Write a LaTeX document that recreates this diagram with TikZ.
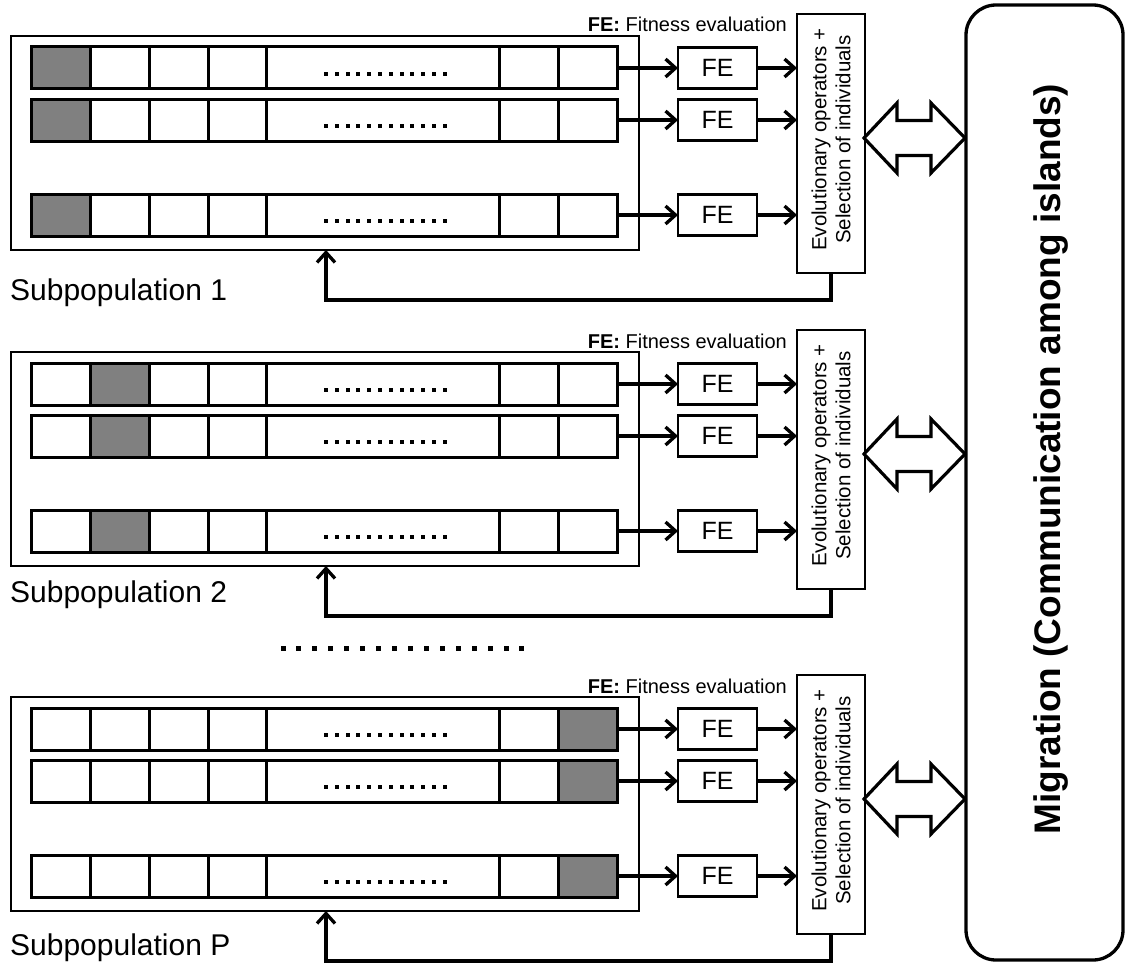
\documentclass[tikz,border=0pt]{standalone}
\usepackage{fontspec}
\setmainfont{Liberation Sans}
\usetikzlibrary{arrows.meta}
\definecolor{genegray}{HTML}{808080}
\begin{document}
\begin{tikzpicture}[x=1pt,y=-1pt,
  cellbox/.style={draw, line width=3pt, minimum height=42pt, inner sep=0pt, outer sep=0pt, anchor=north west},
  popbox/.style={draw, line width=2.6pt, minimum width=628pt, minimum height=214pt, inner sep=0pt, outer sep=0pt, anchor=north west},
  febox/.style={draw, line width=2.8pt, minimum width=79pt, minimum height=41pt, inner sep=0pt, outer sep=0pt, font=\fontsize{25}{28}\selectfont},
  evbox/.style={draw, line width=2.6pt, minimum width=68pt, minimum height=259pt, inner sep=0pt, outer sep=0pt, anchor=north west},
  arr/.style={line width=3.3pt, -{Straight Barb[length=10pt,width=18pt,line width=3.3pt]}},
  dblarrow/.style={draw, line width=3.2pt, fill=white, line join=miter},
  poplabel/.style={anchor=base west, inner sep=0pt, font=\fontsize{30}{36}\selectfont},
  felabel/.style={anchor=base east, inner sep=0pt, font=\fontsize{20}{24}\selectfont},
  evtext/.style={rotate=90, align=center, inner sep=0pt, font=\fontsize{20.5}{24}\selectfont}
]
\useasboundingbox (0,0) rectangle (1133,974);

% Migration box
\node[draw, line width=3.3pt, rounded corners=30pt, minimum width=157pt, minimum height=955pt, inner sep=0pt, outer sep=0pt, anchor=north west] (mig) at (966,5) {};
\node[rotate=90, anchor=base, inner sep=0pt, font=\fontsize{37}{44}\selectfont\bfseries] (migtext) at (1060,459) {Migration (Communication among islands)};

\foreach \t/\n/\g/\lb in {36/1/1/264, 352/2/2/250, 697/P/7/258}{
  % outer population box
  \node[popbox] (pop-\n) at (11,\t) {};
  % individuals
  \foreach \ro [count=\r] in {11,63,158}{
    \foreach \x/\w [count=\c] in {31/59,90/59,149/59,208/58,266/233,499/59,558/59}{
      \def\fc{white}\ifnum\c=\g\relax\def\fc{genegray}\fi
      \node[cellbox, minimum width=\w pt, fill=\fc] (c-\n-\r-\c) at (\x,\t+\ro) {};
    }
    \foreach \k in {0,...,11}{
      \fill (324+\k*10.8, \t+\ro+25) rectangle ++(4,4);
    }
    \node[febox] (fe-\n-\r) at (717.5,\t+\ro+21) {FE};
  }
  % evolutionary operators box
  \node[evbox] (ev-\n) at (797,\t-22) {};
  \node[evtext] (evt-\n) at (831,\t-22+125.5) {Evolutionary operators +\\Selection of individuals};
  % FE legend
  \node[felabel] (fel-\n) at (787,\t-4) {\textbf{FE:} Fitness evaluation};
  % label
  \node[poplabel] (lab-\n) at (10,\t+\lb) {Subpopulation \n};
  % arrows individual -> FE -> EV
  \foreach \r in {1,2,3}{
    \draw[arr] (c-\n-\r-7.east) -- (fe-\n-\r.west);
    \draw[arr] (fe-\n-\r.east) -- (fe-\n-\r.east -| ev-\n.west);
  }
  % feedback
  \coordinate (fbk-\n) at (326,\t+264);
  \draw[arr] (ev-\n.south) |- (fbk-\n) -- (fbk-\n |- pop-\n.south);
  % double arrow
  \coordinate (dl-\n) at (864,\t+102);
  \draw[dblarrow] (dl-\n) -- ++(33,-35) -- ++(0,17.5) -- ++(34,0) -- ++(0,-17.5)
     -- ++(34,35) -- ++(-34,35) -- ++(0,-17.5) -- ++(-34,0) -- ++(0,17.5) -- cycle;
}

% vertical ellipsis between subpopulations
\foreach \k in {0,...,15}{
  \fill (280.5+\k*15.93, 645.5) rectangle ++(5,5);
}
\end{tikzpicture}
\end{document}
